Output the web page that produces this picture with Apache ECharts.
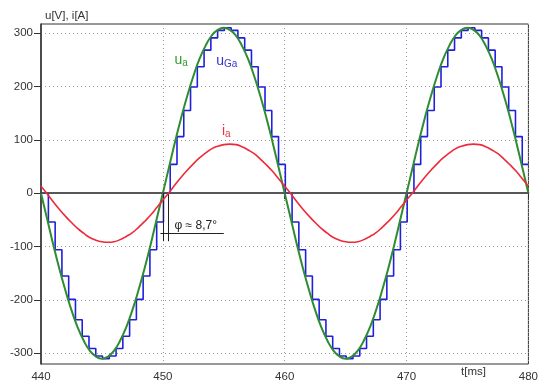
<!DOCTYPE html>
<html>
<head>
<meta charset="utf-8">
<script src="https://cdn.jsdelivr.net/npm/echarts@6/dist/echarts.min.js"></script>
<style>
  html, body { margin: 0; padding: 0; background: #fff; }
  #chart { width: 541px; height: 387px; }
</style>
</head>
<body>
<div id="chart"></div>
<script>
// time grid [ms], sampled every 0.5 ms from 440 to 480
const tStart = 440
const tStep = 0.5

// u_a [V] (green), read every 0.5 ms
const uA = [
  0, -48, -96, -141, -182, -219, -251, -276, -295, -306,
  -310, -306, -295, -276, -251, -219, -182, -141, -96, -48,
  0, 48, 96, 141, 182, 219, 251, 276, 295, 306,
  310, 306, 295, 276, 251, 219, 182, 141, 96, 48,
  0, -48, -96, -141, -182, -219, -251, -276, -295, -306,
  -310, -306, -295, -276, -251, -219, -182, -141, -96, -48,
  0, 48, 96, 141, 182, 219, 251, 276, 295, 306,
  310, 306, 295, 276, 251, 219, 182, 141, 96, 48,
  0
]

// i_a [A] (red), read every 0.5 ms
const iA = [
  13, -1, -16, -30, -43, -55, -66, -75, -83, -88,
  -91, -92, -91, -87, -81, -74, -64, -53, -41, -27,
  -13, 1, 16, 30, 43, 55, 66, 75, 83, 88,
  91, 92, 91, 87, 81, 74, 64, 53, 41, 27,
  13, -1, -16, -30, -43, -55, -66, -75, -83, -88,
  -91, -92, -91, -87, -81, -74, -64, -53, -41, -27,
  -13, 1, 16, 30, 43, 55, 66, 75, 83, 88,
  91, 92, 91, 87, 81, 74, 64, 53, 41, 27,
  13
]

// u_Ga [V] (blue staircase): 36 held levels per 20 ms period
const uGaFirst = 0
const uGaT0 = 440.05
const uGaStep = 20 / 36
const uGa = [
  0, -54, -106, -155, -199, -237, -268, -291, -305,
  -310, -305, -291, -268, -237, -199, -155, -106, -54,
  0, 54, 106, 155, 199, 237, 268, 291, 305,
  310, 305, 291, 268, 237, 199, 155, 106, 54,
  0, -54, -106, -155, -199, -237, -268, -291, -305,
  -310, -305, -291, -268, -237, -199, -155, -106, -54,
  0, 54, 106, 155, 199, 237, 268, 291, 305,
  310, 305, 291, 268, 237, 199, 155, 106, 54
]

const xTicks = [440, 450, 460, 470, 480]
const phiText = 'φ ≈ 8,7°'

const font = '"Liberation Sans", Arial, sans-serif'
const green = '#2f8c30'
const blue = '#1f1fdc'
const red = '#ee2a3a'

const uAData = uA.map((v, i) => [tStart + i * tStep, v])
const iAData = iA.map((v, i) => [tStart + i * tStep, v])
const uGaData = [[tStart, uGaFirst]].concat(uGa.map((v, i) => [uGaT0 + i * uGaStep, v]))
uGaData.push([480, uGa[uGa.length - 1]])

const chart = echarts.init(document.getElementById('chart'), null, { renderer: 'canvas' })

const option = {
  animation: false,
  backgroundColor: '#fff',
  textStyle: { fontFamily: font },
  grid: {
    left: 41, right: 7, top: 24, bottom: 23,
    show: true, borderColor: '#333', borderWidth: 1, backgroundColor: 'transparent'
  },
  xAxis: {
    type: 'value',
    min: xTicks[0], max: xTicks[xTicks.length - 1], interval: 10,
    axisLine: { show: true, lineStyle: { color: '#333', width: 1.5 } },
    axisTick: { show: true, length: 6, lineStyle: { color: '#333' } },
    axisLabel: { color: '#333', fontSize: 11.5, margin: 7, fontFamily: font,
      showMinLabel: true, showMaxLabel: true },
    splitLine: { show: true, lineStyle: { color: '#999', type: [1, 3], width: 1 } }
  },
  yAxis: {
    type: 'value',
    min: -320, max: 317, splitNumber: 6,
    axisLine: { show: true, lineStyle: { color: '#333', width: 1.5 } },
    axisTick: { show: true, length: 7, lineStyle: { color: '#333' } },
    axisLabel: { color: '#333', fontSize: 11.5, margin: 8, fontFamily: font,
      showMinLabel: false, showMaxLabel: false },
    splitLine: { show: true, lineStyle: { color: '#999', type: [1, 3], width: 1 } }
  },
  graphic: [
    { type: 'text', left: 45, top: 10, style: { text: 'u[V], i[A]', fontSize: 11.5, fill: '#333', fontFamily: font } },
    { type: 'text', left: 461, top: 366, style: { text: 't[ms]', fontSize: 11.5, fill: '#333', fontFamily: font } }
  ],
  series: [
    {
      // zero line and phase annotation
      type: 'line', data: [], z: 1, silent: true,
      markLine: {
        silent: true, symbol: ['none', 'none'], animation: false,
        label: { show: false },
        lineStyle: { color: '#555', type: 'solid', width: 1.5 },
        data: [
          { yAxis: 0 },
          [{ coord: [450.05, 0], lineStyle: { color: '#222', width: 1 } }, { coord: [450.05, -90] }],
          [{ coord: [450.45, 0], lineStyle: { color: '#222', width: 1 } }, { coord: [450.45, -90] }],
          [{ coord: [449.8, -75], lineStyle: { color: '#222', width: 1 } }, { coord: [455.0, -75] }]
        ]
      },
      markPoint: {
        silent: true, symbol: 'circle', symbolSize: 1, itemStyle: { color: 'rgba(0,0,0,0)' },
        label: { show: true, position: 'inside', color: '#222', fontSize: 12, fontFamily: font },
        data: [{ coord: [452.7, -60], value: phiText, label: { formatter: phiText } }]
      }
    },
    {
      name: 'u_Ga', type: 'line', step: 'end', data: uGaData, z: 3,
      symbol: 'none', lineStyle: { color: blue, width: 1.6 },
      markPoint: {
        silent: true, symbol: 'circle', symbolSize: 1, itemStyle: { color: 'rgba(0,0,0,0)' },
        label: {
          show: true, position: 'inside', formatter: '{a|u}{b|Ga}',
          rich: { a: { color: '#3535d0', fontSize: 14, fontFamily: font },
                  b: { color: '#3535d0', fontSize: 10, fontFamily: font, padding: [6, 0, 0, 0] } }
        },
        data: [{ coord: [455.25, 248] }]
      }
    },
    {
      name: 'u_a', type: 'line', smooth: true, data: uAData, z: 4,
      symbol: 'none', lineStyle: { color: green, width: 2 },
      markPoint: {
        silent: true, symbol: 'circle', symbolSize: 1, itemStyle: { color: 'rgba(0,0,0,0)' },
        label: {
          show: true, position: 'inside', formatter: '{a|u}{b|a}',
          rich: { a: { color: '#2f9a2f', fontSize: 14, fontFamily: font },
                  b: { color: '#2f9a2f', fontSize: 10, fontFamily: font, padding: [6, 0, 0, 0] } }
        },
        data: [{ coord: [451.5, 250] }]
      }
    },
    {
      name: 'i_a', type: 'line', smooth: true, data: iAData, z: 5,
      symbol: 'none', lineStyle: { color: red, width: 1.6 },
      markPoint: {
        silent: true, symbol: 'circle', symbolSize: 1, itemStyle: { color: 'rgba(0,0,0,0)' },
        label: {
          show: true, position: 'inside', formatter: '{a|i}{b|a}',
          rich: { a: { color: '#e8303f', fontSize: 14, fontFamily: font },
                  b: { color: '#e8303f', fontSize: 10, fontFamily: font, padding: [6, 0, 0, 0] } }
        },
        data: [{ coord: [455.2, 116] }]
      }
    }
  ]
}

chart.setOption(option)
</script>
</body>
</html>
